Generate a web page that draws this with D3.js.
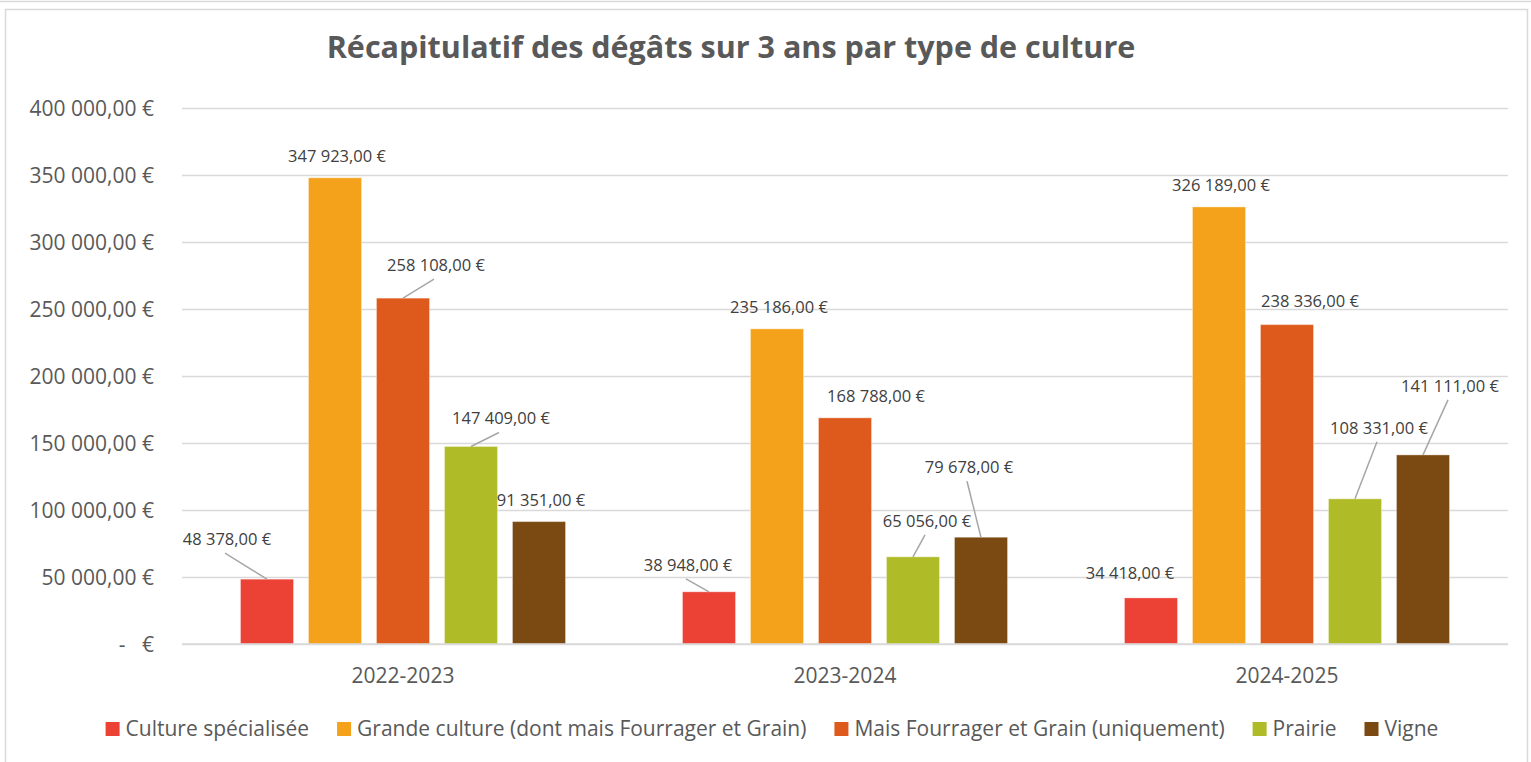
<!DOCTYPE html>
<html>
<head>
<meta charset="utf-8">
<script src="https://cdn.jsdelivr.net/npm/d3@7"></script>
<style>
    body { margin: 0; background: #fff; }
    svg { display: block; font-family: 'Open Sans', sans-serif; }
    .grid line { stroke: #d9d9d9; stroke-width: 1.5; }
    .grid path { display: none; }
    .y-label { fill: #595959; font-size: 21px; white-space: pre; }
    .x-label { fill: #595959; font-size: 21px; }
    .data-label { fill: #404040; font-size: 16.5px; }
    .leader { stroke: #a6a6a6; stroke-width: 1.5; }
    .legend-text { fill: #595959; font-size: 21px; }
</style>
</head>
<body>
<div id="chart"></div>
<script>
// Chart data
const years = ['2022-2023', '2023-2024', '2024-2025'];
const seriesNames = [
    'Culture spécialisée',
    'Grande culture (dont mais Fourrager et Grain)',
    'Mais Fourrager et Grain (uniquement)',
    'Prairie',
    'Vigne'
];
const cultureSpecialisee = [48378, 38948, 34418];
const grandeCulture = [347923, 235186, 326189];
const maisFourrager = [258108, 168788, 238336];
const prairie = [147409, 65056, 108331];
const vigne = [91351, 79678, 141111];
const yTicks = [0, 50000, 100000, 150000, 200000, 250000, 300000, 350000, 400000];

const seriesValues = [cultureSpecialisee, grandeCulture, maisFourrager, prairie, vigne];
const colors = ['#ec4135', '#f4a21b', '#de5a1c', '#afbc27', '#7b4a12'];

// Label placement (moved by hand in the original): [dx, dy, leader line]
const labelOffsets = [
    [[-40, -40, true], [-21, -27, true], [-21, -25, false]],
    [[2, -22, false], [2, -22, false], [2, -22, false]],
    [[33, -33, true], [31, -22, false], [23, -23, false]],
    [[30, -28, true], [14, -36, true], [24, -71, true]],
    [[2, -21, false], [-12, -70, true], [27, -69, true]]
];

const W = 1531, H = 762;
const plot = { left: 182, right: 1508, top: 108, bottom: 644 };

const fr = d3.formatLocale({
    decimal: ',',
    thousands: ' ',
    grouping: [3],
    currency: ['', ' €']
});
const fmtEuro = fr.format('$,.2f');
const fmtTick = v => v === 0 ? '-   €' : fmtEuro(v);

const svg = d3.select('#chart')
    .append('svg')
    .attr('width', W)
    .attr('height', H);

// Frame
svg.append('line')
    .attr('x1', 0).attr('x2', W).attr('y1', 1.5).attr('y2', 1.5)
    .attr('stroke', '#d9d9d9').attr('stroke-width', 1.5);
svg.append('rect')
    .attr('x', 5.5).attr('y', 9.5)
    .attr('width', 1522).attr('height', 780)
    .attr('fill', 'none')
    .attr('stroke', '#d9d9d9')
    .attr('stroke-width', 1.5);

// Title
svg.append('text')
    .attr('x', 731)
    .attr('y', 58)
    .attr('text-anchor', 'middle')
    .style('font-size', '30.5px')
    .style('font-weight', '700')
    .style('fill', '#595959')
    .text('Récapitulatif des dégâts sur 3 ans par type de culture');

// Scales
const y = d3.scaleLinear()
    .domain([0, 400000])
    .range([plot.bottom, plot.top]);

const x0 = d3.scaleBand()
    .domain(years)
    .range([plot.left, plot.right])
    .padding(0);

const x1 = d3.scaleBand()
    .domain(d3.range(seriesNames.length))
    .range([0, x0.bandwidth()])
    .paddingInner(0.22)
    .paddingOuter(0.86);

// Gridlines + y axis labels
const yAxis = svg.append('g')
    .attr('class', 'grid')
    .attr('transform', `translate(${plot.left},0)`)
    .call(d3.axisLeft(y)
        .tickValues(yTicks)
        .tickSize(-(plot.right - plot.left))
        .tickPadding(28)
        .tickFormat(fmtTick));

yAxis.selectAll('text')
    .attr('class', 'y-label')
    .attr('fill', null)
    .attr('dy', '0.35em');
yAxis.attr('font-family', null).attr('font-size', null);

// Bars
const bars = svg.append('g');
seriesValues.forEach((vals, s) => {
    bars.selectAll(`.bar-${s}`)
        .data(vals)
        .enter()
        .append('rect')
        .attr('class', `bar-${s}`)
        .attr('x', (d, i) => x0(years[i]) + x1(s))
        .attr('y', d => y(d))
        .attr('width', x1.bandwidth())
        .attr('height', d => plot.bottom - y(d))
        .attr('fill', colors[s])
        .attr('stroke', '#ffffff')
        .attr('stroke-opacity', 0.35)
        .attr('stroke-width', 1);
});

// Redraw base line over the bars
svg.append('line')
    .attr('x1', plot.left).attr('x2', plot.right)
    .attr('y1', plot.bottom).attr('y2', plot.bottom)
    .attr('stroke', '#d9d9d9').attr('stroke-width', 1.5);

// Data labels with leader lines
const labels = svg.append('g');
seriesValues.forEach((vals, s) => {
    vals.forEach((v, i) => {
        const cx = x0(years[i]) + x1(s) + x1.bandwidth() / 2;
        const top = y(v);
        const [dx, dy, leader] = labelOffsets[s][i];
        const lx = cx + dx;
        const ly = top + dy;

        if (leader) {
            labels.append('line')
                .attr('class', 'leader')
                .attr('x1', cx).attr('y1', top)
                .attr('x2', lx - 2).attr('y2', ly + 14);
        }

        labels.append('text')
            .attr('class', 'data-label')
            .attr('x', lx)
            .attr('y', ly)
            .attr('dy', '0.35em')
            .attr('text-anchor', 'middle')
            .text(fmtEuro(v));
    });
});

// Category labels
svg.append('g')
    .selectAll('text')
    .data(years)
    .enter()
    .append('text')
    .attr('class', 'x-label')
    .attr('x', d => x0(d) + x0.bandwidth() / 2)
    .attr('y', 676)
    .attr('dy', '0.35em')
    .attr('text-anchor', 'middle')
    .text(d => d);

// Legend (laid out from measured text widths, then centred)
const legend = svg.append('g').attr('class', 'legend');
const sq = 14, sqGap = 6, itemGap = 28;
let cursor = 0;
seriesNames.forEach((name, s) => {
    const item = legend.append('g').attr('transform', `translate(${cursor},0)`);
    item.append('rect')
        .attr('x', 0)
        .attr('y', -sq / 2)
        .attr('width', sq)
        .attr('height', sq)
        .attr('fill', colors[s]);
    const t = item.append('text')
        .attr('class', 'legend-text')
        .attr('x', sq + sqGap)
        .attr('y', 0)
        .attr('dy', '0.35em')
        .text(name);
    cursor += sq + sqGap + t.node().getComputedTextLength() + itemGap;
});
const legendWidth = cursor - itemGap;
legend.attr('transform', `translate(${772 - legendWidth / 2},729)`);
</script>
</body>
</html>
